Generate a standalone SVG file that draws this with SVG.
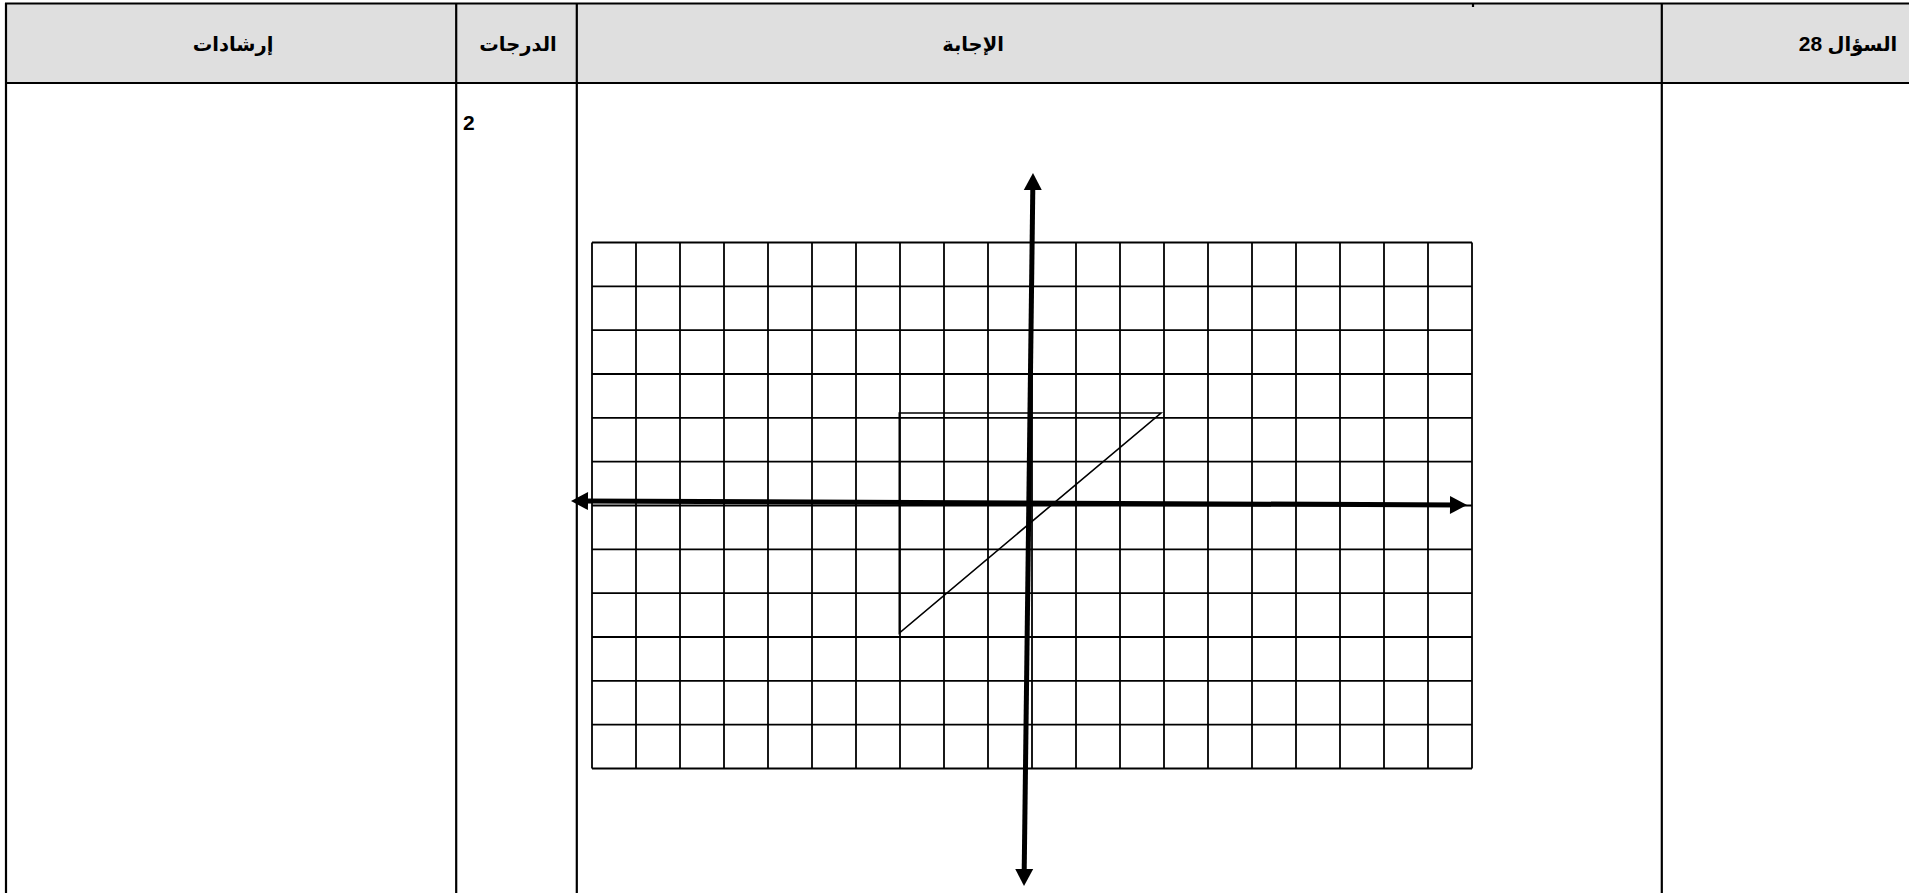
<svg xmlns="http://www.w3.org/2000/svg" width="1909" height="893" viewBox="0 0 1909 893">
  <style>
    .tbl { stroke: #000; stroke-width: 2.2; fill: none; }
    .hdr { font-family: "Liberation Sans", "DejaVu Sans", sans-serif; font-weight: bold; font-size: 19.5px; fill: #000; }
    .num { font-family: "Liberation Sans", "DejaVu Sans", sans-serif; font-weight: bold; font-size: 21px; fill: #000; }
    .grid line { stroke: #000; stroke-width: 1.8; }
    .axis { stroke: #000; stroke-width: 5; fill: none; }
    .shape { stroke: #000; stroke-width: 1.6; fill: none; stroke-linejoin: miter; }
  </style>
  <defs>
    <marker id="arrow" markerUnits="userSpaceOnUse" markerWidth="17" markerHeight="18" refX="7" refY="9" orient="auto-start-reverse" overflow="visible">
      <path d="M0,0 L17,9 L0,18 Z" fill="#000"/>
    </marker>
  </defs>
  <rect x="0" y="0" width="1909" height="893" fill="#fff"/>

  <g id="table">
    <rect x="6" y="3" width="1903" height="80" fill="#dfdfdf"/>
    <line class="tbl" x1="5" y1="3.5" x2="1909" y2="3.5" stroke-width="1.6"/>
    <line class="tbl" x1="5" y1="83" x2="1909" y2="83" stroke-width="2.8"/>
    <line class="tbl" x1="6" y1="3" x2="6" y2="893"/>
    <line class="tbl" x1="456.2" y1="3" x2="456.2" y2="893"/>
    <line class="tbl" x1="576.8" y1="3" x2="576.8" y2="893"/>
    <line class="tbl" x1="1661.8" y1="3" x2="1661.8" y2="893"/>
    <line class="tbl" x1="1473" y1="3" x2="1473" y2="7" stroke-width="1.5"/>
  </g>

  <g id="header-guidance">
    <text class="hdr" x="233" y="51" text-anchor="middle" direction="rtl">إرشادات</text>
  </g>
  <g id="header-marks">
    <text class="hdr" x="518" y="51" text-anchor="middle" direction="rtl">الدرجات</text>
  </g>
  <g id="header-answer">
    <text class="hdr" x="973" y="51" text-anchor="middle" direction="rtl">الإجابة</text>
  </g>
  <g id="header-question">
    <text class="hdr" x="1848" y="51" text-anchor="middle" direction="rtl">السؤال <tspan class="num">28</tspan></text>
  </g>
  <g id="marks-value">
    <text class="num" x="463" y="130" font-size="25px">2</text>
  </g>

  <g id="grid" class="grid">
    <line x1="592" y1="242.5" x2="592" y2="768.5"/>
    <line x1="636" y1="242.5" x2="636" y2="768.5"/>
    <line x1="680" y1="242.5" x2="680" y2="768.5"/>
    <line x1="724" y1="242.5" x2="724" y2="768.5"/>
    <line x1="768" y1="242.5" x2="768" y2="768.5"/>
    <line x1="812" y1="242.5" x2="812" y2="768.5"/>
    <line x1="856" y1="242.5" x2="856" y2="768.5"/>
    <line x1="900" y1="242.5" x2="900" y2="768.5"/>
    <line x1="944" y1="242.5" x2="944" y2="768.5"/>
    <line x1="988" y1="242.5" x2="988" y2="768.5"/>
    <line x1="1032" y1="242.5" x2="1032" y2="768.5"/>
    <line x1="1076" y1="242.5" x2="1076" y2="768.5"/>
    <line x1="1120" y1="242.5" x2="1120" y2="768.5"/>
    <line x1="1164" y1="242.5" x2="1164" y2="768.5"/>
    <line x1="1208" y1="242.5" x2="1208" y2="768.5"/>
    <line x1="1252" y1="242.5" x2="1252" y2="768.5"/>
    <line x1="1296" y1="242.5" x2="1296" y2="768.5"/>
    <line x1="1340" y1="242.5" x2="1340" y2="768.5"/>
    <line x1="1384" y1="242.5" x2="1384" y2="768.5"/>
    <line x1="1428" y1="242.5" x2="1428" y2="768.5"/>
    <line x1="1472" y1="242.5" x2="1472" y2="768.5"/>
    <line x1="592" y1="242.5" x2="1472" y2="242.5"/>
    <line x1="592" y1="286.33" x2="1472" y2="286.33"/>
    <line x1="592" y1="330.17" x2="1472" y2="330.17"/>
    <line x1="592" y1="374" x2="1472" y2="374"/>
    <line x1="592" y1="417.83" x2="1472" y2="417.83"/>
    <line x1="592" y1="461.67" x2="1472" y2="461.67"/>
    <line x1="592" y1="505.5" x2="1472" y2="505.5"/>
    <line x1="592" y1="549.33" x2="1472" y2="549.33"/>
    <line x1="592" y1="593.17" x2="1472" y2="593.17"/>
    <line x1="592" y1="637" x2="1472" y2="637"/>
    <line x1="592" y1="680.83" x2="1472" y2="680.83"/>
    <line x1="592" y1="724.67" x2="1472" y2="724.67"/>
    <line x1="592" y1="768.5" x2="1472" y2="768.5"/>
  </g>

  <g id="triangle">
    <polygon class="shape" points="899.3,413 1161,413 899.3,633"/>
  </g>

  <g id="axes">
    <line id="x-axis" class="axis" x1="581" y1="501.04" x2="1457" y2="504.96" marker-start="url(#arrow)" marker-end="url(#arrow)"/>
    <line id="y-axis" class="axis" x1="1032.87" y1="183" x2="1024.13" y2="876" marker-start="url(#arrow)" marker-end="url(#arrow)"/>
  </g>
</svg>
